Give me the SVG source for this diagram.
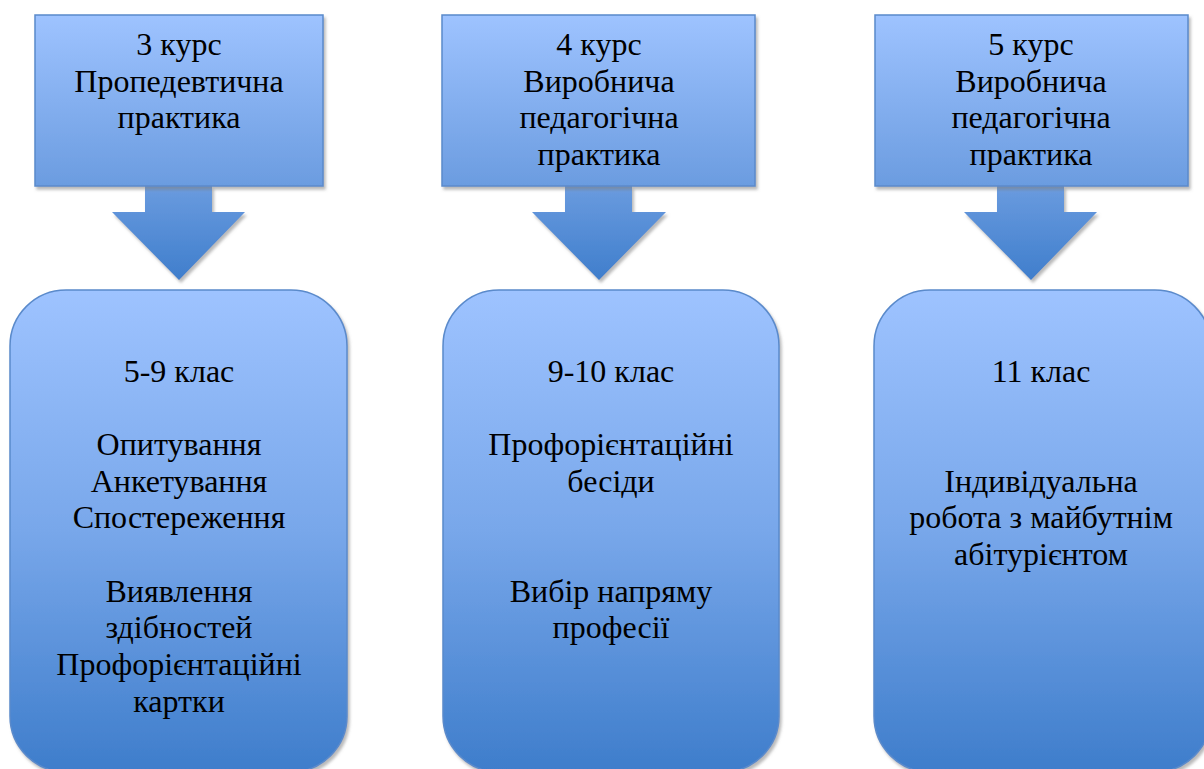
<svg xmlns="http://www.w3.org/2000/svg" width="1204" height="769" viewBox="0 0 1204 769">
<defs>
<linearGradient id="gTop" x1="0" y1="0" x2="0" y2="1">
<stop offset="0" stop-color="#9EC3FF"/>
<stop offset="1" stop-color="#6B9CE0"/>
</linearGradient>
<linearGradient id="gArrow" x1="0" y1="0" x2="0" y2="1">
<stop offset="0" stop-color="#6A9BDF"/>
<stop offset="1" stop-color="#3F7ECC"/>
</linearGradient>
<linearGradient id="gBot" x1="0" y1="0" x2="0" y2="1">
<stop offset="0" stop-color="#9EC3FF"/>
<stop offset="0.5" stop-color="#78A7EA"/>
<stop offset="1" stop-color="#3E7DCB"/>
</linearGradient>
<filter id="sh" x="-10%" y="-10%" width="130%" height="130%">
<feDropShadow dx="2" dy="3" stdDeviation="1.5" flood-color="#808080" flood-opacity="0.55"/>
</filter>
</defs>
<style>
.box{fill:url(#gTop);stroke:#5A8ACB;stroke-width:1.5;filter:url(#sh)}
.rbox{fill:url(#gBot);stroke:#5A8ACB;stroke-width:1.5;filter:url(#sh)}
.arr{fill:url(#gArrow);stroke:none;filter:url(#sh)}
text{font-family:"Liberation Serif","Times New Roman",serif;font-size:32px;fill:#000;text-anchor:middle}
</style>
<rect width="1204" height="769" fill="#FFFFFF"/>
<g id="connectors">
<path class="arr" d="M145,186 L212,186 L212,212 L245,212 L179,280 L112,212 L145,212 Z"/>
<path class="arr" d="M565,186 L632,186 L632,212 L666,212 L599,280 L532,212 L565,212 Z"/>
<path class="arr" d="M997,186 L1064,186 L1064,212 L1097,212 L1031,280 L964,212 L997,212 Z"/>
</g>
<g id="node-top1">
<rect class="box" x="35" y="15" width="288" height="171"/>
<text x="179" y="55">3 курс</text>
<text x="179" y="92">Пропедевтична</text>
<text x="179" y="128">практика</text>
</g>
<g id="node-top2">
<rect class="box" x="442" y="15" width="313" height="171"/>
<text x="599" y="55">4 курс</text>
<text x="599" y="92">Виробнича</text>
<text x="599" y="128">педагогічна</text>
<text x="599" y="165">практика</text>
</g>
<g id="node-top3">
<rect class="box" x="875" y="15" width="313" height="171"/>
<text x="1031" y="55">5 курс</text>
<text x="1031" y="92">Виробнича</text>
<text x="1031" y="128">педагогічна</text>
<text x="1031" y="165">практика</text>
</g>
<g id="node-bot1">
<rect class="rbox" x="10" y="290" width="337" height="482" rx="56" ry="56"/>
<text x="179" y="382">5-9 клас</text>
<text x="179" y="455">Опитування</text>
<text x="179" y="492">Анкетування</text>
<text x="179" y="528">Спостереження</text>
<text x="179" y="602">Виявлення</text>
<text x="179" y="638">здібностей</text>
<text x="179" y="675">Профорієнтаційні</text>
<text x="179" y="712">картки</text>
</g>
<g id="node-bot2">
<rect class="rbox" x="443" y="290" width="336" height="482" rx="56" ry="56"/>
<text x="611" y="382">9-10 клас</text>
<text x="611" y="455">Профорієнтаційні</text>
<text x="611" y="492">бесіди</text>
<text x="611" y="602">Вибір напряму</text>
<text x="611" y="638">професії</text>
</g>
<g id="node-bot3">
<rect class="rbox" x="874" y="290" width="337" height="482" rx="56" ry="56"/>
<text x="1041" y="382">11 клас</text>
<text x="1041" y="492">Індивідуальна</text>
<text x="1041" y="528">робота з майбутнім</text>
<text x="1041" y="565">абітурієнтом</text>
</g>
</svg>
